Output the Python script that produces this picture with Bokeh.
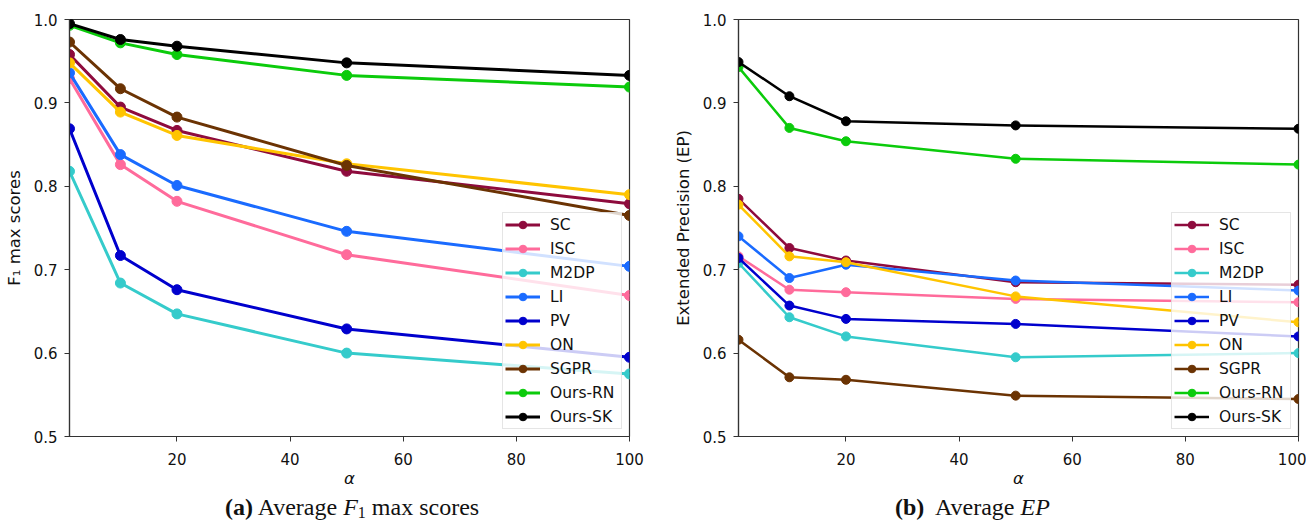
from bokeh.plotting import figure
from bokeh.models import Range1d, FixedTicker, NumeralTickFormatter, Div
from bokeh.layouts import row, column
from bokeh.embed import file_html
from bokeh.resources import INLINE

# ---------------- data ----------------
alpha = [1, 10, 20, 50, 100]
methods = ["SC", "ISC", "M2DP", "LI", "PV", "ON", "SGPR", "Ours-RN", "Ours-SK"]
colors = ["#8E0B3D", "#FF6B9B", "#35CBCB", "#1A6BFF", "#0000CD",
          "#FFC400", "#6B3303", "#0BCB0B", "#000000"]

# (a) Average F1 max scores
f1_sc = [0.958, 0.895, 0.867, 0.818, 0.779]
f1_isc = [0.929, 0.826, 0.782, 0.718, 0.669]
f1_m2dp = [0.818, 0.684, 0.647, 0.600, 0.575]
f1_li = [0.936, 0.838, 0.801, 0.746, 0.704]
f1_pv = [0.869, 0.717, 0.676, 0.629, 0.595]
f1_on = [0.948, 0.889, 0.861, 0.827, 0.790]
f1_sgpr = [0.973, 0.917, 0.883, 0.825, 0.765]
f1_ours_rn = [0.993, 0.972, 0.958, 0.933, 0.919]
f1_ours_sk = [0.995, 0.976, 0.968, 0.948, 0.933]

# (b) Average EP
ep_sc = [0.785, 0.726, 0.711, 0.685, 0.682]
ep_isc = [0.716, 0.676, 0.673, 0.665, 0.661]
ep_m2dp = [0.708, 0.643, 0.620, 0.595, 0.600]
ep_li = [0.740, 0.690, 0.706, 0.687, 0.675]
ep_pv = [0.714, 0.657, 0.641, 0.635, 0.620]
ep_on = [0.778, 0.716, 0.709, 0.668, 0.637]
ep_sgpr = [0.616, 0.571, 0.568, 0.549, 0.545]
ep_ours_rn = [0.943, 0.870, 0.854, 0.833, 0.826]
ep_ours_sk = [0.949, 0.908, 0.878, 0.873, 0.869]

f1_series = [f1_sc, f1_isc, f1_m2dp, f1_li, f1_pv, f1_on, f1_sgpr, f1_ours_rn, f1_ours_sk]
ep_series = [ep_sc, ep_isc, ep_m2dp, ep_li, ep_pv, ep_on, ep_sgpr, ep_ours_rn, ep_ours_sk]

y_ticks = [0.5, 0.6, 0.7, 0.8, 0.9, 1.0]
x_ticks = [20, 40, 60, 80, 100]

FONT = "DejaVu Sans"
AX = "#333333"


def make_fig(series, ylabel, border_left, border_right, lw, ms):
    p = figure(frame_width=560, frame_height=417,
               x_range=Range1d(1, 100), y_range=Range1d(0.5, 1.0),
               output_backend="svg", toolbar_location=None,
               min_border_left=border_left, min_border_right=border_right,
               min_border_top=19, min_border_bottom=46,
               background_fill_color="white", border_fill_color="white")
    p.grid.visible = False
    p.outline_line_color = AX
    p.outline_line_width = 1.2

    for name, col, ys in zip(methods, colors, series):
        p.line(alpha, ys, line_color=col, line_width=lw, legend_label=name)
        p.scatter(alpha, ys, fill_color=col, line_color=col, size=ms, legend_label=name)

    for ax in (p.xaxis[0], p.yaxis[0]):
        ax.axis_line_color = AX
        ax.axis_line_width = 1.2
        ax.major_tick_line_color = AX
        ax.major_tick_in = 0
        ax.major_tick_out = 5
        ax.minor_tick_line_color = None
        ax.major_label_text_font = FONT
        ax.major_label_text_font_size = "15px"
        ax.major_label_text_color = "#111111"
        ax.axis_label_text_font = FONT
        ax.axis_label_text_font_size = "16.5px"
        ax.axis_label_text_color = "#111111"

    p.xaxis.ticker = FixedTicker(ticks=x_ticks)
    p.xaxis.major_label_standoff = 11
    p.xaxis.axis_label = "α"
    p.xaxis.axis_label_text_font_style = "italic"
    p.xaxis.axis_label_standoff = 1

    p.yaxis.ticker = FixedTicker(ticks=y_ticks)
    p.yaxis.formatter = NumeralTickFormatter(format="0.0")
    p.yaxis.major_label_standoff = 7
    p.yaxis.axis_label = ylabel
    p.yaxis.axis_label_text_font_style = "normal"
    p.yaxis.axis_label_standoff = 7

    lg = p.legend[0]
    lg.location = "bottom_right"
    lg.margin = 7
    lg.padding = 2
    lg.spacing = 5
    lg.glyph_width = 35
    lg.glyph_height = 19
    lg.label_height = 19
    lg.label_width = 69
    lg.label_standoff = 10
    lg.label_text_font = FONT
    lg.label_text_font_size = "15.5px"
    lg.label_text_color = "#111111"
    lg.border_line_color = "#cccccc"
    lg.border_line_width = 1
    lg.background_fill_alpha = 0.8
    return p


p1 = make_fig(f1_series, "F₁ max scores", 69, 31, 3, 10)
p2 = make_fig(ep_series, "Extended Precision (EP)", 67, 8, 2.5, 9)

cap_style = ("font-family:'Liberation Serif','DejaVu Serif',serif; font-size:24px; "
             "line-height:24px; color:#111; white-space:nowrap;")
c1 = Div(text=f'<div style="{cap_style} padding-left:220px;"><b>(a)</b> Average <i>F</i>'
              f'<sub style="font-size:16px; line-height:0; vertical-align:-3px">1</sub> max scores</div>',
         width=660, height=26)
c2 = Div(text=f'<div style="{cap_style} padding-left:220px;"><b>(b)</b>&nbsp; Average <i>EP</i></div>',
         width=635, height=26)

layout = row(column(p1, c1), column(p2, c2))

with open("out.html", "w") as f:
    f.write(file_html(layout, INLINE))
